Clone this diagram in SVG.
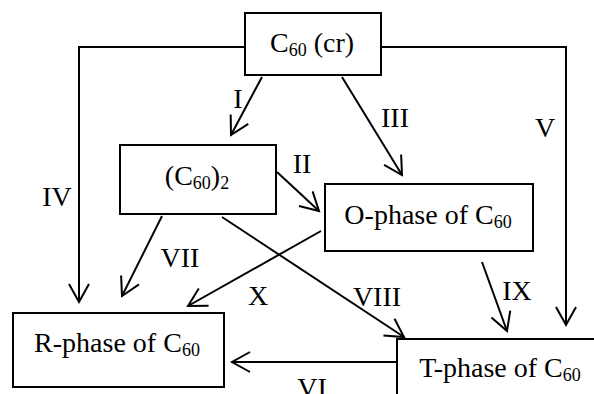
<svg xmlns="http://www.w3.org/2000/svg" width="594" height="394" viewBox="0 0 594 394">
<style>
.box{fill:#fff;stroke:#000;stroke-width:2}
.ln{fill:none;stroke:#000;stroke-width:2;marker-end:url(#ah)}
text{font-family:"Liberation Serif","Times New Roman",serif;font-size:28px;fill:#000}
.t{text-anchor:middle}
.s{font-size:18px}
</style>
<defs>
<marker id="ah" markerUnits="userSpaceOnUse" markerWidth="30" markerHeight="30" viewBox="-20 -15 30 30" refX="0" refY="0" orient="auto">
<path d="M-18,-10 L0,0 L-18,10" fill="none" stroke="#000" stroke-width="2"/>
</marker>
</defs>
<rect width="594" height="394" fill="#fff"/>
<g id="connectors">
<path class="ln" d="M245,47 H79 V302"/>
<path class="ln" d="M369,47 H566 V325"/>
<path class="ln" d="M262,77 L231,135"/>
<path class="ln" d="M342,77 L402,175"/>
<path class="ln" d="M277,172 L319,211"/>
<path class="ln" d="M162,216 L122,296"/>
<path class="ln" d="M222,217 L404,337"/>
<path class="ln" d="M321,231 L188,306"/>
<path class="ln" d="M482,262 L507,331"/>
<path class="ln" d="M397,362 L232,362"/>
<text class="t" x="238" y="108">I</text>
<text class="t" x="302" y="173">II</text>
<text class="t" x="395" y="127">III</text>
<text class="t" x="57" y="206">IV</text>
<text class="t" x="545" y="137">V</text>
<text class="t" x="312" y="397">VI</text>
<text class="t" x="180" y="267">VII</text>
<text class="t" x="377" y="306">VIII</text>
<text class="t" x="517" y="300">IX</text>
<text class="t" x="258" y="305">X</text>
</g>
<g id="c60cr">
<rect class="box" x="245" y="13" width="136" height="62"/>
<text class="t" x="312" y="52">C<tspan class="s" dy="4">60</tspan><tspan dy="-4"> (cr)</tspan></text>
</g>
<g id="dimer">
<rect class="box" x="120" y="145" width="156" height="69"/>
<text class="t" x="197" y="185">(C<tspan class="s" dy="4">60</tspan><tspan dy="-4">)</tspan><tspan class="s" dy="4">2</tspan></text>
</g>
<g id="ophase">
<rect class="box" x="325" y="184" width="208" height="67"/>
<text class="t" x="428" y="224">O-phase of C<tspan class="s" dy="4">60</tspan></text>
</g>
<g id="rphase">
<rect class="box" x="13" y="313" width="211" height="74"/>
<text class="t" x="117" y="352">R-phase of C<tspan class="s" dy="4">60</tspan></text>
</g>
<g id="tphase">
<rect class="box" x="397" y="339" width="210" height="70"/>
<text class="t" x="500" y="377">T-phase of C<tspan class="s" dy="4">60</tspan></text>
</g>
</svg>
